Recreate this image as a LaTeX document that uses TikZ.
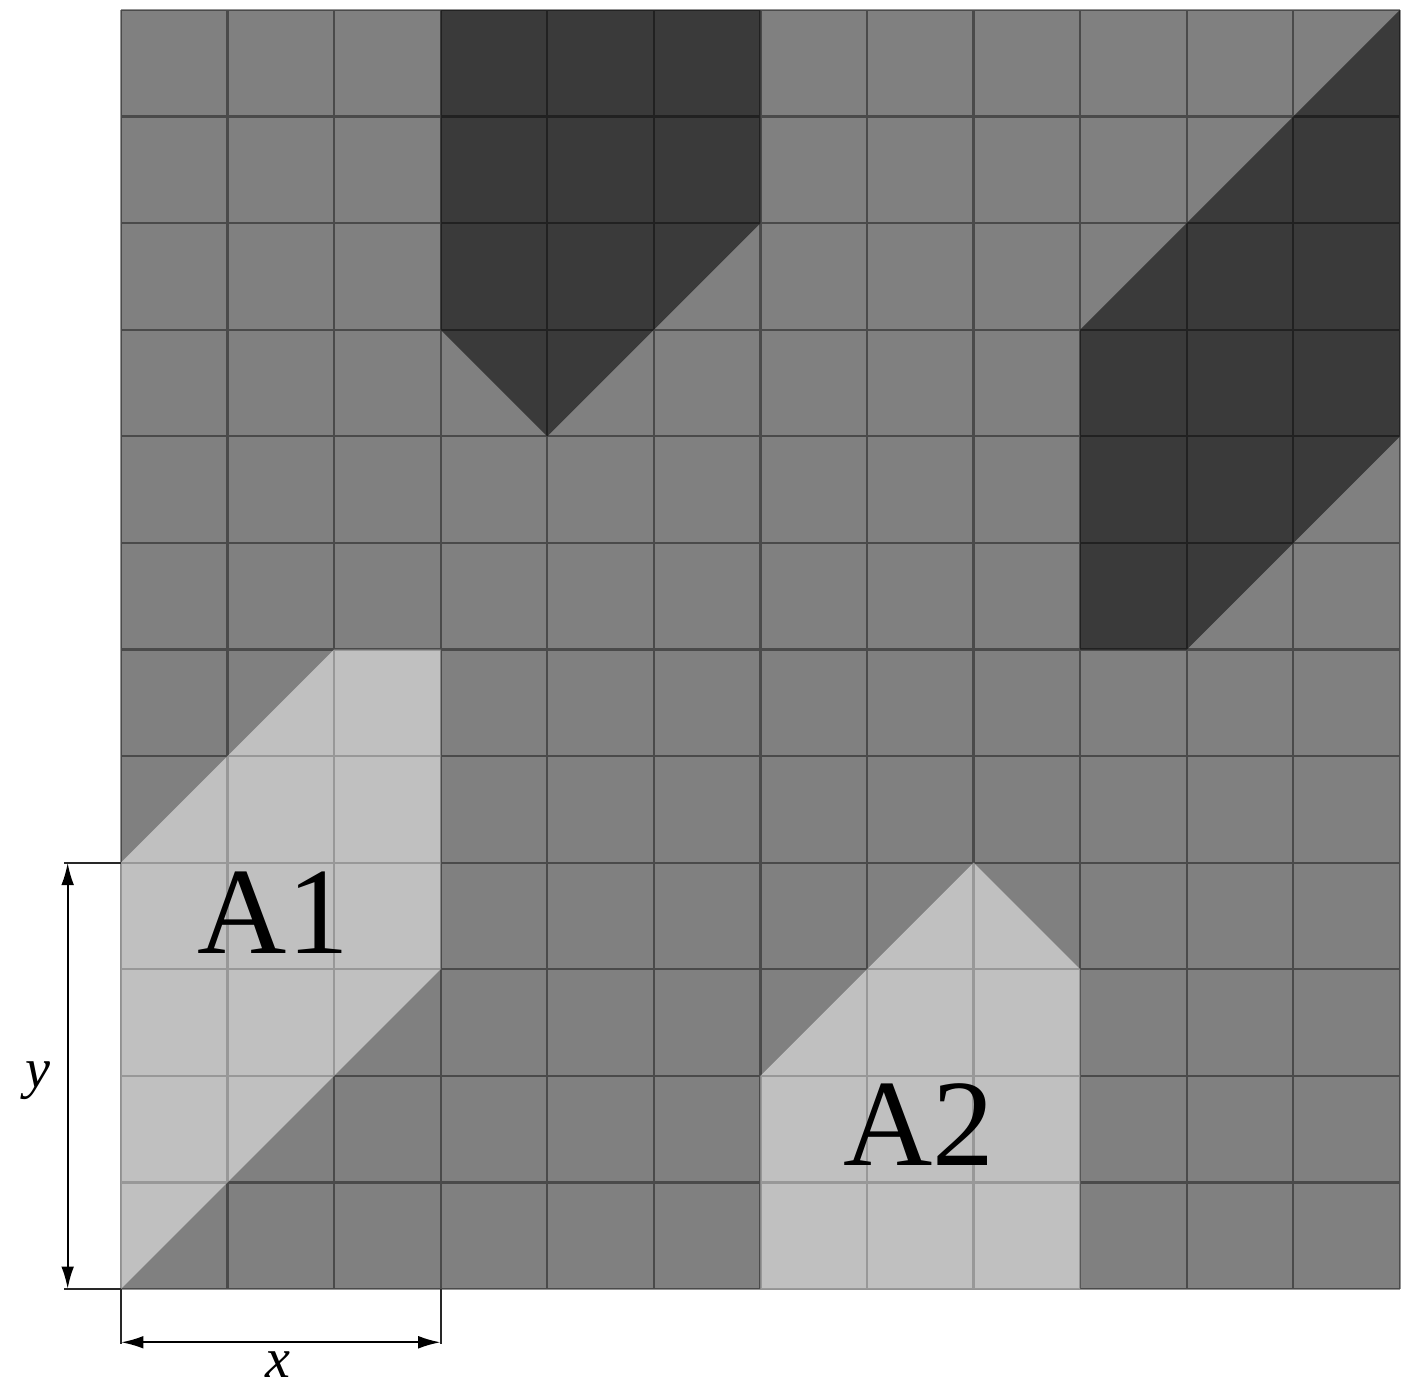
\documentclass[tikz,border=0pt]{standalone}
\usepackage{fontspec}
\setmainfont{Liberation Serif}
\usetikzlibrary{arrows.meta}
\definecolor{midgray}{RGB}{128,128,128}
\definecolor{darkfill}{RGB}{58,58,58}
\definecolor{lightfill}{RGB}{192,192,192}
\definecolor{lightline}{RGB}{152,152,152}
\definecolor{dimcol}{RGB}{40,40,40}
\begin{document}
\begin{tikzpicture}[x=1cm,y=1cm,
  gridline/.style={draw=black, draw opacity=0.42, line width=0.6pt},
  lightgrid/.style={draw=lightline, line width=0.6pt},
  extline/.style={draw=dimcol, line width=0.6pt},
  dimarrow/.style={draw=black, line width=0.6pt, {Latex[length=6pt,width=3.4pt]}-{Latex[length=6pt,width=3.4pt]}},
  biglabel/.style={font=\fontsize{33}{38}\selectfont, anchor=base, inner sep=0pt},
  dimlabel/.style={font=\fontsize{15}{18}\selectfont\itshape, anchor=base, inner sep=0pt}]
\useasboundingbox (-1.135,-0.910) rectangle (12.160,12.094);
% background
\fill[midgray] (0,0) rectangle (12,12);
% dark shapes
\fill[darkfill] (3,12)--(6,12)--(6,10)--(4,8)--(3,9)--cycle;
\fill[darkfill] (12,12)--(9,9)--(9,6)--(10,6)--(12,8)--cycle;
% light shapes
\fill[lightfill] (0,0)--(0,4)--(2,6)--(3,6)--(3,3)--cycle;
\fill[lightfill] (6,0)--(6,2)--(8,4)--(9,3)--(9,0)--cycle;
% grid
\draw[gridline] (0,0) grid (12,12);
\begin{scope}
  \clip (0,0)--(0,4)--(2,6)--(3,6)--(3,3)--cycle;
  \draw[lightgrid] (0,0) grid (12,12);
\end{scope}
\begin{scope}
  \clip (6,0)--(6,2)--(8,4)--(9,3)--(9,0)--cycle;
  \draw[lightgrid] (0,0) grid (12,12);
\end{scope}
% labels
\node[biglabel] (a1) at (1.43,3.15) {A1};
\node[biglabel] (a2) at (7.49,1.16) {A2};
% dimension y
\coordinate (y0) at (0,0);
\coordinate (y1) at (0,4);
\coordinate (y0e) at (-0.53,0);
\coordinate (y1e) at (-0.53,4);
\coordinate (ya) at (-0.5,0);
\coordinate (yb) at (-0.5,4);
\draw[extline] (y0) -- (y0e);
\draw[extline] (y1) -- (y1e);
\draw[dimarrow] (ya) -- (yb);
\node[dimlabel] (ylab) at (-0.775,1.89) {y};
% dimension x
\coordinate (x0) at (0,0);
\coordinate (x1) at (3,0);
\coordinate (x0e) at (0,-0.52);
\coordinate (x1e) at (3,-0.52);
\coordinate (xa) at (0,-0.5);
\coordinate (xb) at (3,-0.5);
\draw[extline] (x0) -- (x0e);
\draw[extline] (x1) -- (x1e);
\draw[dimarrow] (xa) -- (xb);
\node[dimlabel] (xlab) at (1.47,-0.835) {x};
\end{tikzpicture}
\end{document}
